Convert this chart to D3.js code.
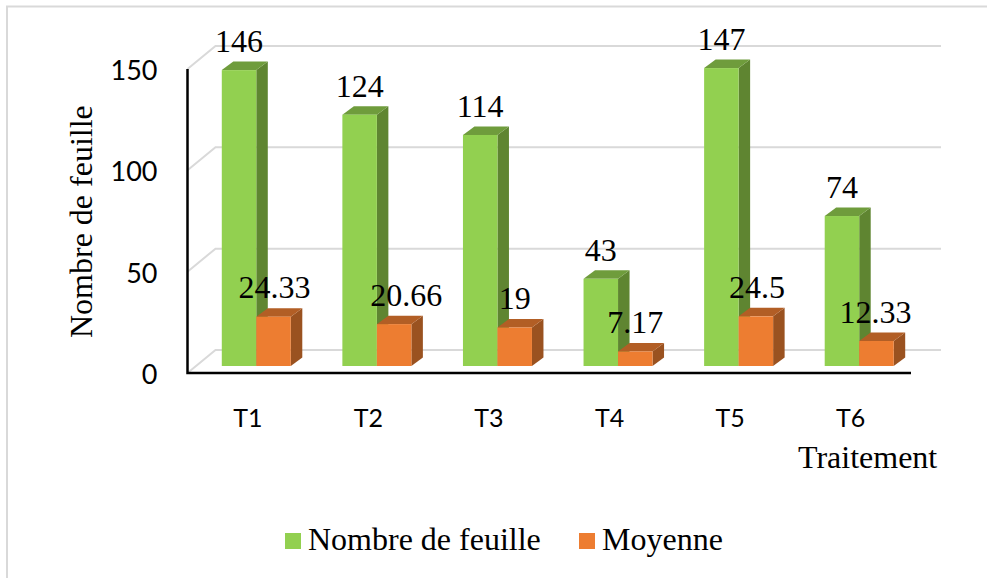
<!DOCTYPE html>
<html lang="fr">
<head>
    <meta charset="UTF-8">
    <script src="https://d3js.org/d3.v7.min.js"></script>
    <style>
        html, body { margin: 0; padding: 0; background: #fff; }
        svg { display: block; }
        .serif { font-family: "Liberation Serif", serif; fill: #000; }
        .tick-label { font-family: Lato, sans-serif; fill: #000; }
    </style>
</head>
<body>
    <svg id="chart"></svg>
    <script>
        const categories = ["T1", "T2", "T3", "T4", "T5", "T6"];
        const nombre = [146, 124, 114, 43, 147, 74];
        const moyenne = [24.33, 20.66, 19, 7.17, 24.5, 12.33];
        const moyenneLabels = ["24.33", "20.66", "19", "7.17", "24.5", "12.33"];
        const yTicks = [0, 50, 100, 150];

        const width = 987, height = 578;
        const svg = d3.select("#chart").attr("width", width).attr("height", height);

        // front plane of the 3D box
        const x = d3.scaleBand().domain(categories).range([187.5, 911]);
        const y = d3.scaleLinear().domain([0, 150]).range([373, 69]);

        const wall = { dx: 28, dy: -23, right: 941 };
        const barShift = { dx: 8.5, dy: -7 };
        const depth = { dx: 11.5, dy: -8.5 };
        const barW = 34.5;

        // outer frame
        svg.append("path")
            .attr("d", "M7,578V6.5H987")
            .attr("fill", "none")
            .attr("stroke", "#d9d9d9")
            .attr("stroke-width", 2);

        // gridlines on floor/side and back wall
        yTicks.forEach(t => {
            svg.append("polyline")
                .attr("points", [
                    [x.range()[0], y(t)],
                    [x.range()[0] + wall.dx, y(t) + wall.dy],
                    [wall.right, y(t) + wall.dy]
                ].join(" "))
                .attr("fill", "none")
                .attr("stroke", "#d9d9d9")
                .attr("stroke-width", 2);
        });

        function bar3d(left, value, colors) {
            const x0 = left + barShift.dx, x1 = x0 + barW;
            const y0 = y(0) + barShift.dy, y1 = y(value) + barShift.dy;
            const g = svg.append("g");
            g.append("polygon")
                .attr("points", [[x1, y0], [x1, y1], [x1 + depth.dx, y1 + depth.dy], [x1 + depth.dx, y0 + depth.dy]].join(" "))
                .attr("fill", colors.side);
            g.append("polygon")
                .attr("points", [[x0, y1], [x1, y1], [x1 + depth.dx, y1 + depth.dy], [x0 + depth.dx, y1 + depth.dy]].join(" "))
                .attr("fill", colors.top);
            g.append("rect")
                .attr("x", x0).attr("y", y1)
                .attr("width", barW).attr("height", y0 - y1)
                .attr("fill", colors.front);
        }

        const green = { front: "#92d050", side: "#5f8531", top: "#6f9c3c" };
        const orange = { front: "#ed7d31", side: "#9a5220", top: "#b25e25" };

        categories.forEach((c, i) => {
            const left = x(c) + x.bandwidth() / 2 - barW;
            bar3d(left, nombre[i], green);
            bar3d(left + barW, moyenne[i], orange);
        });

        // axes, black lines
        svg.append("path")
            .attr("d", `M${x.range()[0]},${y(150)}V${y(0)}H${x.range()[1]}`)
            .attr("fill", "none")
            .attr("stroke", "#000")
            .attr("stroke-width", 2.5);

        svg.selectAll(".ytick")
            .data(yTicks)
            .enter().append("text")
            .attr("class", "tick-label")
            .attr("x", 157.5)
            .attr("y", d => y(d) + 11)
            .attr("text-anchor", "end")
            .attr("font-size", 27)
            .text(d => d);

        svg.selectAll(".xtick")
            .data(categories)
            .enter().append("text")
            .attr("class", "tick-label")
            .attr("x", d => x(d) + x.bandwidth() / 2)
            .attr("y", 427)
            .attr("text-anchor", "middle")
            .attr("font-size", 25)
            .text(d => d);

        // value labels, some are nudged off the bar centre in the original
        const moyenneNudge = [1, 12, 0, 0, 1, -1];
        categories.forEach((c, i) => {
            const left = x(c) + x.bandwidth() / 2 - barW + barShift.dx;
            svg.append("text")
                .attr("class", "serif")
                .attr("x", left + barW / 2)
                .attr("y", y(nombre[i]) + barShift.dy - 18)
                .attr("text-anchor", "middle")
                .attr("font-size", 32)
                .text(nombre[i]);
            svg.append("text")
                .attr("class", "serif")
                .attr("x", left + barW * 1.5 + moyenneNudge[i])
                .attr("y", y(moyenne[i]) + barShift.dy - 18.5)
                .attr("text-anchor", "middle")
                .attr("font-size", 32)
                .text(moyenneLabels[i]);
        });

        // axis titles
        svg.append("text")
            .attr("class", "serif")
            .attr("transform", "translate(92,338) rotate(-90)")
            .attr("font-size", 32)
            .text("Nombre de feuille");

        svg.append("text")
            .attr("class", "serif")
            .attr("x", 798).attr("y", 468)
            .attr("font-size", 32)
            .text("Traitement");

        // legend
        const legend = [
            { name: "Nombre de feuille", color: green.front, x: 285 },
            { name: "Moyenne", color: orange.front, x: 579 }
        ];
        legend.forEach(d => {
            svg.append("rect")
                .attr("x", d.x).attr("y", 533)
                .attr("width", 16).attr("height", 16)
                .attr("fill", d.color);
            svg.append("text")
                .attr("class", "serif")
                .attr("x", d.x + 23).attr("y", 550)
                .attr("font-size", 32)
                .text(d.name);
        });
    </script>
</body>
</html>
